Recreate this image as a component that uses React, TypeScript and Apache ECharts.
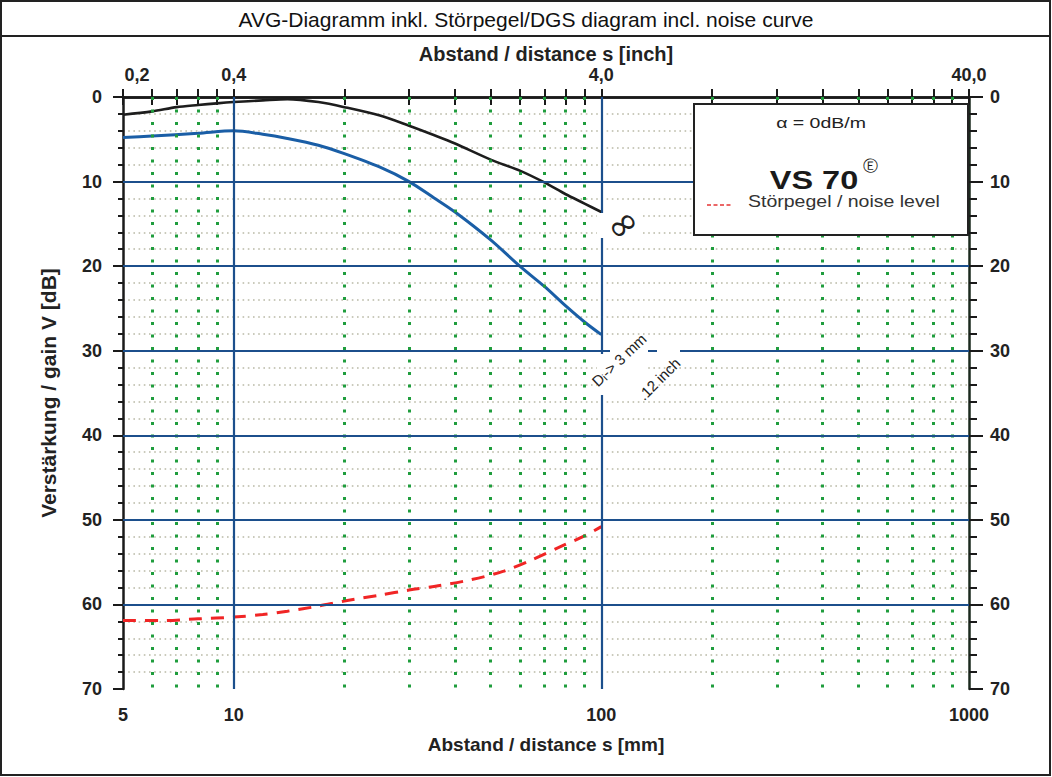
import React, { useEffect, useRef } from "react";
import * as echarts from "echarts";

// ---- data ----
const distanceMin = 5;
const distanceMax = 1000;
const bottomLabelValues = [5, 10, 100, 1000];
const topLabelValues = [5, 10, 100, 1000];
const topLabelTexts = ["0,2", "0,4", "4,0", "40,0"];
const distanceTickValues = [5, 6, 7, 8, 9, 10, 20, 30, 40, 50, 60, 70, 80, 90, 100, 200, 300, 400, 500, 600, 700, 800, 900, 1000];
const blueVerticalLines = [10, 100];
const greenVerticalLines = [6, 7, 8, 9, 20, 30, 40, 50, 60, 70, 80, 90, 200, 300, 400, 500, 600, 700, 800, 900];
const blueHorizontalLines = [10, 20, 30, 40, 50, 60];
const gainMin = 0;
const gainMax = 70;
const gainInterval = 10;

// [distance mm, gain dB]
const infinityCurve = [
  [5, 2.1], [6, 1.7], [7, 1.2], [8, 0.95], [9, 0.75], [10, 0.6], [12, 0.4], [14, 0.25],
  [17, 0.6], [20, 1.2], [25, 2.2], [30, 3.4], [35, 4.5], [40, 5.5], [50, 7.4], [60, 8.7],
  [70, 10.1], [80, 11.5], [90, 12.6], [100, 13.6],
];
const dsr3mmCurve = [
  [5, 4.8], [6, 4.6], [8, 4.3], [10, 4.0], [12, 4.4], [14, 4.9], [17, 5.7], [20, 6.7],
  [25, 8.3], [30, 10.0], [35, 11.9], [40, 13.6], [50, 16.9], [60, 20.0], [70, 22.4],
  [80, 24.7], [90, 26.6], [100, 28.1],
];
const noiseCurve = [
  [5, 61.9], [6.5, 61.9], [8, 61.7], [10, 61.5], [12, 61.2], [14, 60.8], [17, 60.2],
  [20, 59.6], [25, 58.9], [30, 58.3], [36, 57.8], [44, 57.1], [54, 56.1], [65, 54.7],
  [79, 53.0], [90, 51.9], [100, 50.8],
];

const titleText = "AVG-Diagramm inkl. Störpegel/DGS diagram incl. noise curve";
const FONT = '"Liberation Sans", Arial, sans-serif';
const GRID_BLUE = "#1c4f8c";
const CURVE_BLUE = "#1a5ea6";
const GREEN = "#1f9d3d";

export default function App() {
  const ref = useRef<HTMLDivElement>(null);

  useEffect(() => {
    if (!ref.current) return;
    const chart = echarts.init(ref.current, undefined, { renderer: "svg" });

    const gridMarkLines = [
      ...greenVerticalLines.map((v) => ({
        xAxis: v,
        lineStyle: { color: GREEN, width: 3, type: [3, 9.5] as any, cap: "butt" },
      })),
      ...blueHorizontalLines.map((v) => ({
        yAxis: v,
        lineStyle: { color: GRID_BLUE, width: 2.2, type: "solid" },
      })),
      ...blueVerticalLines.map((v) => ({
        xAxis: v,
        lineStyle: { color: GRID_BLUE, width: 2.2, type: "solid" },
      })),
    ];

    const axisLineStyle = { color: "#1a1a1a", width: 2.5 };
    const labelStyle = { fontFamily: FONT, fontWeight: "bold" as const, fontSize: 18, color: "#222" };
    const nameBase = { fontFamily: FONT, fontWeight: "bold" as const, color: "#222" };

    chart.setOption({
      animation: false,
      backgroundColor: "#fff",
      grid: { left: 123, right: 83, top: 97, bottom: 88, containLabel: false },
      xAxis: [
        {
          type: "log",
          logBase: 10,
          min: distanceMin,
          max: distanceMax,
          position: "bottom",
          name: "Abstand / distance s [mm]",
          nameLocation: "middle",
          nameGap: 46,
          nameMoveOverlap: false,
          nameTextStyle: { ...nameBase, fontSize: 19 },
          axisLine: { show: true, lineStyle: axisLineStyle },
          axisTick: { show: true, length: 8, customValues: distanceTickValues, lineStyle: { color: "#1a1a1a", width: 2 } },
          axisLabel: { show: true, customValues: bottomLabelValues, margin: 17, formatter: (v: number) => String(v), ...labelStyle },
          splitLine: { show: false },
          minorTick: { show: false },
        },
        {
          type: "log",
          logBase: 10,
          min: distanceMin,
          max: distanceMax,
          position: "top",
          name: "Abstand / distance s [inch]",
          nameLocation: "middle",
          nameGap: 33,
          nameMoveOverlap: false,
          nameTextStyle: { ...nameBase, fontSize: 20 },
          axisLine: { show: true, lineStyle: axisLineStyle },
          axisTick: { show: true, length: 8, customValues: distanceTickValues, lineStyle: { color: "#1a1a1a", width: 2 } },
          axisLabel: {
            show: true,
            customValues: topLabelValues,
            margin: 13,
            formatter: (v: number) => {
              const i = topLabelValues.findIndex((t) => Math.abs(t - v) < 1e-6);
              if (i < 0) return "";
              return i === 0 ? `{first|${topLabelTexts[i]}}` : topLabelTexts[i];
            },
            rich: { first: { padding: [0, 0, 0, 28], fontFamily: FONT, fontWeight: "bold", fontSize: 18, color: "#222" } },
            ...labelStyle,
          },
          splitLine: { show: false },
        },
      ],
      yAxis: [
        {
          type: "value",
          inverse: true,
          min: gainMin,
          max: gainMax,
          interval: gainInterval,
          position: "left",
          name: "Verstärkung / gain V [dB]",
          nameLocation: "middle",
          nameGap: 64,
          nameMoveOverlap: false,
          nameTextStyle: { ...nameBase, fontSize: 21 },
          axisLine: { show: true, lineStyle: axisLineStyle },
          axisTick: { show: true, length: 10, lineStyle: { color: "#1a1a1a", width: 2 } },
          minorTick: { show: true, splitNumber: 5, length: 5, lineStyle: { color: "#1a1a1a", width: 2 } },
          axisLabel: { show: true, margin: 21, ...labelStyle },
          splitLine: { show: false },
          minorSplitLine: { show: true, lineStyle: { color: "#b9b9a6", width: 1.6, type: [1.6, 3.6] } },
        },
        {
          type: "value",
          inverse: true,
          min: gainMin,
          max: gainMax,
          interval: gainInterval,
          position: "right",
          axisLine: { show: true, lineStyle: { color: "#1b2a1e", width: 2.5 } },
          axisTick: { show: true, length: 14, lineStyle: { color: "#1a1a1a", width: 2 } },
          minorTick: { show: true, splitNumber: 5, length: 8, lineStyle: { color: "#1a1a1a", width: 2 } },
          axisLabel: { show: true, margin: 21, ...labelStyle },
          splitLine: { show: false },
        },
      ],
      series: [
        {
          type: "line",
          name: "grid",
          z: 1,
          silent: true,
          data: [[distanceMin, gainMin]],
          showSymbol: false,
          lineStyle: { opacity: 0 },
          markLine: {
            silent: true,
            symbol: ["none", "none"],
            label: { show: false },
            emphasis: { disabled: true },
            animation: false,
            data: gridMarkLines,
          },
        },
        {
          type: "line",
          name: "infinity",
          z: 4,
          data: infinityCurve,
          smooth: 0.3,
          showSymbol: false,
          lineStyle: { color: "#1d1d1d", width: 2.6 },
        },
        {
          type: "line",
          name: "Dr 3mm",
          z: 4,
          data: dsr3mmCurve,
          smooth: 0.3,
          showSymbol: false,
          lineStyle: { color: CURVE_BLUE, width: 3 },
        },
        {
          type: "line",
          name: "Störpegel / noise level",
          z: 4,
          data: noiseCurve,
          smooth: 0.3,
          showSymbol: false,
          lineStyle: { color: "#f02525", width: 3, type: [13, 9] },
        },
      ],
      graphic: [
        // frame
        { type: "rect", z: 100, silent: true, shape: { x: 1, y: 1, width: 1049, height: 774 }, style: { fill: "none", stroke: "#222", lineWidth: 2 } },
        { type: "line", z: 100, silent: true, shape: { x1: 1, y1: 36, x2: 1050, y2: 36 }, style: { stroke: "#222", lineWidth: 2 } },
        {
          type: "text", z: 100, silent: true, x: 526, y: 19,
          style: { text: titleText, font: `21px ${FONT}`, fill: "#111", align: "center", verticalAlign: "middle" },
        },
        // masks for annotation gaps
        { type: "rect", z: 50, silent: true, shape: { x: 597, y: 213, width: 44, height: 25 }, style: { fill: "#fff" } },
        { type: "rect", z: 50, silent: true, shape: { x: 597, y: 354, width: 48, height: 41 }, style: { fill: "#fff" } },
        { type: "rect", z: 50, silent: true, shape: { x: 610, y: 345, width: 70, height: 12 }, style: { fill: "#fff" } },
        { type: "line", z: 51, silent: true, shape: { x1: 648, y1: 351, x2: 657, y2: 351 }, style: { stroke: GRID_BLUE, lineWidth: 2 } },
        // annotations
        {
          type: "text", z: 60, silent: true, x: 622, y: 224, rotation: 0.65, scaleX: 1.6, scaleY: 1.6,
          style: { text: "∞", font: `24px "DejaVu Sans", ${FONT}`, fill: "#222", align: "center", verticalAlign: "middle" },
        },
        {
          type: "text", z: 60, silent: true, x: 619, y: 360, rotation: 0.76,
          style: { text: "Dᵢ-> 3 mm", font: `15px ${FONT}`, fill: "#222", align: "center", verticalAlign: "middle" },
        },
        {
          type: "text", z: 60, silent: true, x: 659, y: 379, rotation: 0.78,
          style: { text: ".12 inch", font: `15px ${FONT}`, fill: "#222", align: "center", verticalAlign: "middle" },
        },
        // legend box
        { type: "rect", z: 70, silent: true, shape: { x: 694, y: 104, width: 274, height: 131 }, style: { fill: "#fff", stroke: "#222", lineWidth: 2 } },
        {
          type: "text", z: 71, silent: true, x: 821, y: 123, scaleX: 1.3,
          style: { text: "α = 0dB/m", font: `15px ${FONT}`, fill: "#222", align: "center", verticalAlign: "middle" },
        },
        {
          type: "text", z: 71, silent: true, x: 814, y: 180, scaleX: 1.3,
          style: { text: "VS 70", font: `bold 25px ${FONT}`, fill: "#1a1a1a", align: "center", verticalAlign: "middle" },
        },
        {
          type: "text", z: 71, silent: true, x: 870, y: 166,
          style: { text: "Ⓔ", font: `15px "DejaVu Sans", ${FONT}`, fill: "#1a1a1a", align: "center", verticalAlign: "middle" },
        },
        { type: "line", z: 71, silent: true, shape: { x1: 707, y1: 205, x2: 731, y2: 205 }, style: { stroke: "#e53535", lineWidth: 1.5, lineDash: [4, 2.5] } },
        {
          type: "text", z: 71, silent: true, x: 748, y: 202, scaleX: 1.22,
          style: { text: "Störpegel / noise level", font: `16px ${FONT}`, fill: "#333", align: "left", verticalAlign: "middle" },
        },
      ],
    });

    return () => chart.dispose();
  }, []);

  return (
    <div
      ref={ref}
      style={{ position: "absolute", left: 0, top: 0, width: 1052, height: 777, background: "#fff" }}
    />
  );
}
